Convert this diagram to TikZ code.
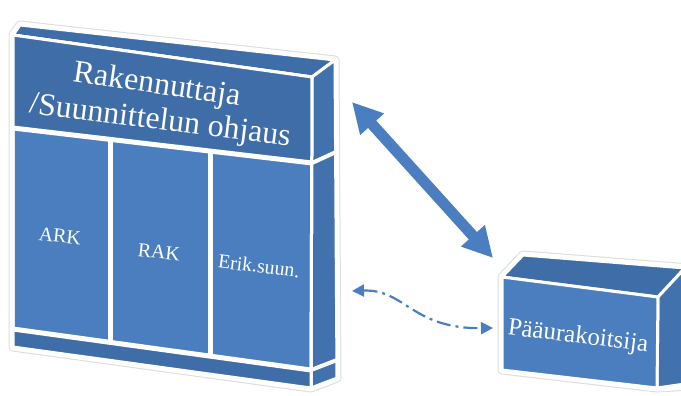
\documentclass[tikz,border=0pt]{standalone}
\usepackage{graphicx}
\usepackage{fontspec}
\setmainfont{Liberation Serif}
\usetikzlibrary{arrows.meta}
\definecolor{facefront}{HTML}{4A7EBE}
\definecolor{facedark}{HTML}{3E6DA8}
\definecolor{faceside}{HTML}{4272AE}
\definecolor{arrowblue}{HTML}{4A7EC0}
\definecolor{halo}{HTML}{DCDCDC}

\begin{document}
\begin{tikzpicture}[x=1bp,y=1bp,
  hull/.style={draw=halo, line width=9bp, line join=round, fill=white},
  hullwhite/.style={draw=white, line width=7bp, line join=round},
  face/.style={draw=white, line width=3bp, line join=round},
  sep/.style={draw=white, line width=5bp},
  lbl/.style={text=white, inner sep=0pt, anchor=center},
  bigtip/.tip={Triangle[length=30bp,width=30bp]},
  smalltip/.tip={Triangle[length=12bp,width=12bp]},
]
\clip (0,0) rectangle (681,-395);

% ---------- left block: Rakennuttaja ----------
\path[hull] (13,-35) -- (20,-25) -- (335,-60) -- (337,-378) -- (311,-388) -- (13,-347) -- cycle;
\path[hullwhite] (13,-35) -- (20,-25) -- (335,-60) -- (337,-378) -- (311,-388) -- (13,-347) -- cycle;
% top face
\path[face, fill=facedark] (13,-35) -- (20,-25) -- (335,-60) -- (312,-77) -- cycle;
% side face
\path[face, fill=faceside] (312,-77) -- (335,-60) -- (337,-378) -- (311,-388) -- cycle;
% front face
\path[face, fill=facefront] (13,-35) -- (312,-77) -- (311,-388) -- (13,-347) -- cycle;
% header band and base band
\path[fill=facedark] (13,-35) -- (312,-77) -- (312,-163) -- (13,-128) -- cycle;
\path[fill=facedark] (13,-329) -- (311,-370) -- (311,-388) -- (13,-347) -- cycle;
% separators on the front face
\draw[sep] (13,-128) -- (312,-163);
\draw[sep] (13,-329) -- (311,-370);
\draw[sep] (110.5,-139.5) -- (110.5,-342);
\draw[sep] (210,-151) -- (210,-356);
% separators on the side face
\draw[sep, line width=4bp] (312,-163) -- (336,-152);
\draw[sep, line width=4bp] (311,-370) -- (337,-360);
% outline of the front face
\draw[face] (13,-35) -- (312,-77) -- (311,-388) -- (13,-347) -- cycle;

\node[lbl, font=\fontsize{32}{36}\selectfont] (t1) at (157,-86) {\rotatebox[origin=c]{-8.5}{Rakennuttaja}};
\node[lbl, font=\fontsize{32}{36}\selectfont] (t2) at (160,-122) {\rotatebox[origin=c]{-7.3}{/Suunnittelun ohjaus}};
\node[lbl, font=\fontsize{20}{22}\selectfont] (ark) at (60,-236) {\rotatebox[origin=c]{-6}{ARK}};
\node[lbl, font=\fontsize{20}{22}\selectfont] (rak) at (159,-252) {\rotatebox[origin=c]{-6}{RAK}};
\node[lbl, font=\fontsize{20}{22}\selectfont] (erik) at (259,-266) {\rotatebox[origin=c]{-7}{Erik.suun.}};

% ---------- right block: Pääurakoitsija ----------
\path[hull] (502,-277) -- (523,-255) -- (690,-268) -- (690,-386) -- (657,-388) -- (502,-370) -- cycle;
\path[hullwhite] (502,-277) -- (523,-255) -- (690,-268) -- (690,-386) -- (657,-388) -- (502,-370) -- cycle;
\path[face, fill=facedark] (502,-277) -- (523,-255) -- (685,-268) -- (658,-297) -- cycle;
\path[face, fill=faceside] (658,-297) -- (685,-268) -- (685,-384) -- (657,-388) -- cycle;
\path[face, fill=facefront] (502,-277) -- (658,-297) -- (657,-388) -- (502,-370) -- cycle;
\node[lbl, font=\fontsize{25}{28}\selectfont] (pu) at (578,-337) {\rotatebox[origin=c]{-7}{Pääurakoitsija}};

% ---------- connectors ----------
\coordinate (ta) at (352,-102);
\coordinate (tb) at (493,-258);
\draw[arrowblue, line width=11bp, bigtip-bigtip] (ta) -- (tb);

\coordinate (da) at (352,-291);
\coordinate (db) at (493,-328);
\draw[arrowblue, line width=2.2bp, dash pattern=on 14bp off 5bp on 3bp off 5bp,
      smalltip-smalltip] (da) .. controls (405,-289) and (412,-329) .. (db);
\end{tikzpicture}
\end{document}
